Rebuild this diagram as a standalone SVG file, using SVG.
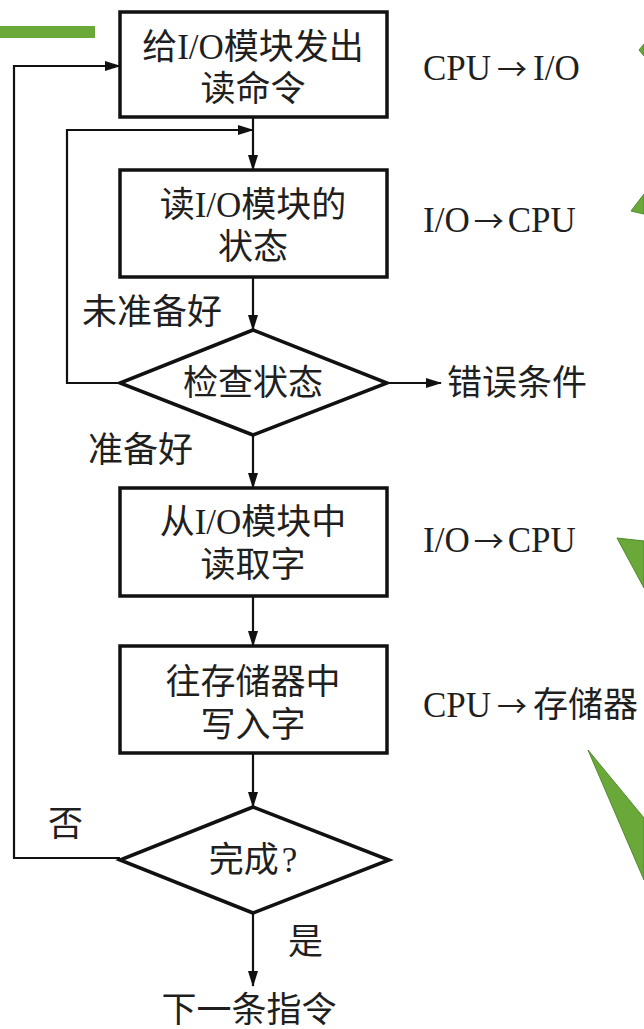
<svg xmlns="http://www.w3.org/2000/svg" width="644" height="1029" viewBox="0 0 644 1029">
  <style>
    .box { fill: #ffffff; stroke: #111111; stroke-width: 3.5; }
    .wire { fill: none; stroke: #111111; stroke-width: 2.2; }
    .lbl { font-family: "Liberation Serif", "Noto Sans CJK SC", serif; font-size: 35px; fill: #1f1f1f; }
    .mid { text-anchor: middle; }
    .arr { font-family: "Noto Sans CJK SC", sans-serif; font-size: 30px; }
    .deco { fill: #6aa83a; stroke: #4f8a2a; stroke-width: 1; }
  </style>
  <defs>
    <marker id="arrow" markerWidth="16" markerHeight="12" refX="15" refY="6" orient="auto" markerUnits="userSpaceOnUse">
      <path d="M0,1 L16,6 L0,11 Z" fill="#111111"/>
    </marker>
  </defs>

  <rect width="644" height="1029" fill="#ffffff"/>

  <!-- slide decorations -->
  <g id="decor">
    <rect x="0" y="26" width="95" height="12" fill="#6aa83a"/>
    <path class="deco" d="M639,50 L644,44 L644,56 Z"/>
    <path class="deco" d="M631,211 L644,194 L644,214 Z"/>
    <path class="deco" d="M617,538 L644,541 L644,588 Z"/>
    <path class="deco" d="M588,750 L644,818 L644,880 Z"/>
  </g>

  <!-- connectors -->
  <g id="connectors">
    <line class="wire" x1="253" y1="117" x2="253" y2="170" marker-end="url(#arrow)"/>
    <line class="wire" x1="253" y1="277" x2="253" y2="330" marker-end="url(#arrow)"/>
    <line class="wire" x1="253" y1="435" x2="253" y2="488" marker-end="url(#arrow)"/>
    <line class="wire" x1="253" y1="596" x2="253" y2="646" marker-end="url(#arrow)"/>
    <line class="wire" x1="253" y1="753" x2="253" y2="807" marker-end="url(#arrow)"/>
    <line class="wire" x1="253" y1="913" x2="253" y2="986" marker-end="url(#arrow)"/>
    <polyline class="wire" points="120,383 67,383 67,130 253,130" marker-end="url(#arrow)"/>
    <polyline class="wire" points="120,858 14,858 14,66 120,66" marker-end="url(#arrow)"/>
    <line class="wire" x1="387" y1="383" x2="441" y2="383" marker-end="url(#arrow)"/>
  </g>

  <!-- step: issue read command -->
  <g id="n-issue">
    <rect class="box" x="120" y="12" width="267" height="105"/>
    <text class="lbl mid" x="253" y="59">给I/O模块发出</text>
    <text class="lbl mid" x="253" y="101">读命令</text>
  </g>
  <text id="t-issue" class="lbl" x="423" y="80">CPU<tspan class="arr" dx="6">→</tspan><tspan dx="6">I/O</tspan></text>

  <!-- step: read status -->
  <g id="n-status">
    <rect class="box" x="120" y="170" width="267" height="107"/>
    <text class="lbl mid" x="253" y="217">读I/O模块的</text>
    <text class="lbl mid" x="253" y="259">状态</text>
  </g>
  <text id="t-status" class="lbl" x="423" y="232">I/O<tspan class="arr" dx="4">→</tspan><tspan dx="4">CPU</tspan></text>

  <!-- decision: check status -->
  <g id="n-check">
    <polygon class="box" points="253,330 387,383 253,435 120,383"/>
    <text class="lbl mid" x="253" y="395">检查状态</text>
  </g>
  <text id="l-notready" class="lbl" x="82" y="324">未准备好</text>
  <text id="l-ready" class="lbl" x="88" y="462">准备好</text>
  <text id="n-error" class="lbl" x="447" y="395">错误条件</text>

  <!-- step: read word -->
  <g id="n-readword">
    <rect class="box" x="120" y="488" width="267" height="108"/>
    <text class="lbl mid" x="253" y="534">从I/O模块中</text>
    <text class="lbl mid" x="253" y="577">读取字</text>
  </g>
  <text id="t-readword" class="lbl" x="423" y="552">I/O<tspan class="arr" dx="4">→</tspan><tspan dx="4">CPU</tspan></text>

  <!-- step: write word -->
  <g id="n-writeword">
    <rect class="box" x="120" y="646" width="267" height="107"/>
    <text class="lbl mid" x="253" y="694">往存储器中</text>
    <text class="lbl mid" x="253" y="737">写入字</text>
  </g>
  <text id="t-writeword" class="lbl" x="423" y="717">CPU<tspan class="arr" dx="6">→</tspan><tspan dx="6">存储器</tspan></text>

  <!-- decision: done? -->
  <g id="n-done">
    <polygon class="box" points="253,807 389,860 253,913 120,860"/>
    <text class="lbl mid" x="253" y="872">完成<tspan dx="3">?</tspan></text>
  </g>
  <text id="l-no" class="lbl" x="48" y="836">否</text>
  <text id="l-yes" class="lbl" x="288" y="954">是</text>

  <!-- next instruction -->
  <g id="n-next">
    <text class="lbl mid" x="249" y="1022">下一条指令</text>
  </g>
</svg>
